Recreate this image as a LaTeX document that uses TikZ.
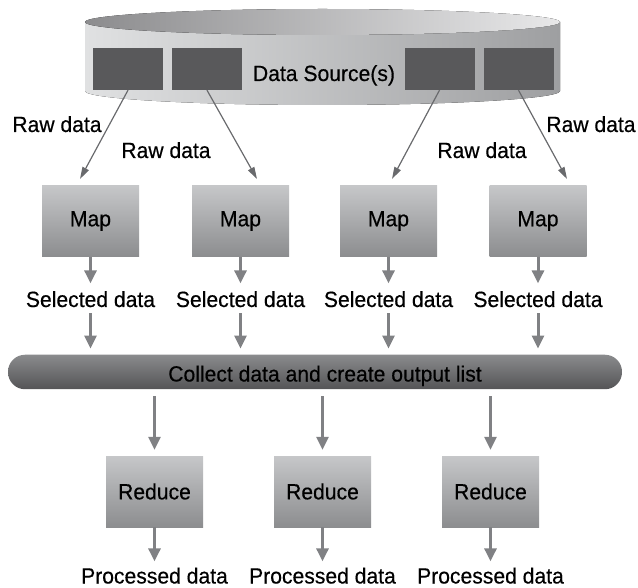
\documentclass[tikz,border=0pt]{standalone}
\usepackage{fontspec}
\setmainfont{Liberation Sans}[FakeStretch=0.96,FakeBold=0.4]
\usetikzlibrary{arrows.meta}
\definecolor{boxdark}{RGB}{89,89,91}
\definecolor{boxtop}{RGB}{198,199,201}
\definecolor{boxbot}{RGB}{140,141,143}
\definecolor{arrowgray}{RGB}{128,129,132}
\definecolor{rawgray}{RGB}{105,106,109}
\definecolor{bartop}{RGB}{138,139,141}
\definecolor{barmid}{RGB}{108,109,111}
\definecolor{barbot}{RGB}{84,84,86}
\definecolor{cylleft}{RGB}{224,225,226}
\definecolor{cylmid}{RGB}{196,197,199}
\definecolor{cylright}{RGB}{158,159,161}
\definecolor{lidleft}{RGB}{140,140,142}
\definecolor{lidmid}{RGB}{178,178,180}
\definecolor{lidright}{RGB}{232,232,233}

\begin{document}
\begin{tikzpicture}[x=1pt,y=-1pt,
		txt/.style={font=\fontsize{22}{26}\selectfont},
		lbl/.style={txt,anchor=base,inner sep=1pt},
		srcbox/.style={fill=boxdark,minimum width=70pt,minimum height=42pt,inner sep=0pt},
		opbox/.style={txt,top color=boxtop,bottom color=boxbot,minimum width=97pt,minimum height=71pt,inner sep=0pt},
		flow/.style={arrowgray,line width=3pt,-{Triangle[length=13pt,width=12pt]}},
		rawflow/.style={rawgray,line width=1.2pt,-{Triangle[length=12pt,width=7pt]}}]
		\useasboundingbox (0,0) rectangle (638,588);

		\fill[left color=cylleft,middle color=cylmid,right color=cylright] (85,22) -- (85,91) arc[start angle=180,end angle=0,x radius=237.5,y radius=14] -- (560,22) -- cycle;
		\fill[left color=lidleft,middle color=lidmid,right color=lidright] (322.5,22) ellipse[x radius=237.5,y radius=13];

		\node[srcbox] (src1) at (128,69) {};
		\node[srcbox] (src2) at (207,69) {};
		\node[srcbox] (src3) at (439.5,69) {};
		\node[srcbox] (src4) at (518.5,69) {};
		\node[lbl] (dsrc) at (324,81) {Data Source(s)};

		\coordinate (in1) at (80,179);
		\coordinate (in2) at (257,179);
		\coordinate (in3) at (392,179);
		\coordinate (in4) at (567,179);
		\draw[rawflow] (src1.south) -- (in1);
		\draw[rawflow] (src2.south) -- (in2);
		\draw[rawflow] (src3.south) -- (in3);
		\draw[rawflow] (src4.south) -- (in4);
		\node[lbl] (raw1) at (57,132) {Raw data};
		\node[lbl] (raw2) at (166,158) {Raw data};
		\node[lbl] (raw3) at (482,158) {Raw data};
		\node[lbl] (raw4) at (591,132) {Raw data};

		\node[opbox] (map1) at (90.5,221) {Map};
		\node[opbox] (map2) at (240.5,221) {Map};
		\node[opbox] (map3) at (388.5,221) {Map};
		\node[opbox] (map4) at (538,221) {Map};

		\node[lbl] (sel1) at (90.5,307) {Selected data};
		\node[lbl] (sel2) at (240.5,307) {Selected data};
		\node[lbl] (sel3) at (388.5,307) {Selected data};
		\node[lbl] (sel4) at (538,307) {Selected data};
		\draw[flow,shorten >=6.5pt] (map1) -- (sel1);
		\draw[flow,shorten >=6.5pt] (map2) -- (sel2);
		\draw[flow,shorten >=6.5pt] (map3) -- (sel3);
		\draw[flow,shorten >=6.5pt] (map4) -- (sel4);

		\node[top color=bartop,middle color=barmid,bottom color=barbot,rounded corners=17pt,minimum width=614pt,minimum height=34.5pt,inner sep=0pt] (collect) at (315,372) {};
		\node[lbl] (collecttxt) at (325,381.5) {Collect data and create output list};
		\draw[flow,shorten <=5pt,shorten >=6pt] (sel1) -- (sel1 |- collect.north);
		\draw[flow,shorten <=5pt,shorten >=6pt] (sel2) -- (sel2 |- collect.north);
		\draw[flow,shorten <=5pt,shorten >=6pt] (sel3) -- (sel3 |- collect.north);
		\draw[flow,shorten <=5pt,shorten >=6pt] (sel4) -- (sel4 |- collect.north);

		\node[opbox] (red1) at (154.5,491.5) {Reduce};
		\node[opbox] (red2) at (322.5,491.5) {Reduce};
		\node[opbox] (red3) at (490.5,491.5) {Reduce};
		\draw[flow,shorten <=7pt,shorten >=6pt] (red1 |- collect.south) -- (red1);
		\draw[flow,shorten <=7pt,shorten >=6pt] (red2 |- collect.south) -- (red2);
		\draw[flow,shorten <=7pt,shorten >=6pt] (red3 |- collect.south) -- (red3);

		\node[lbl] (proc1) at (154.5,583.5) {Processed data};
		\node[lbl] (proc2) at (322.5,583.5) {Processed data};
		\node[lbl] (proc3) at (490.5,583.5) {Processed data};
		\draw[flow,shorten >=5pt] (red1) -- (proc1);
		\draw[flow,shorten >=5pt] (red2) -- (proc2);
		\draw[flow,shorten >=5pt] (red3) -- (proc3);
	\end{tikzpicture}
\end{document}
